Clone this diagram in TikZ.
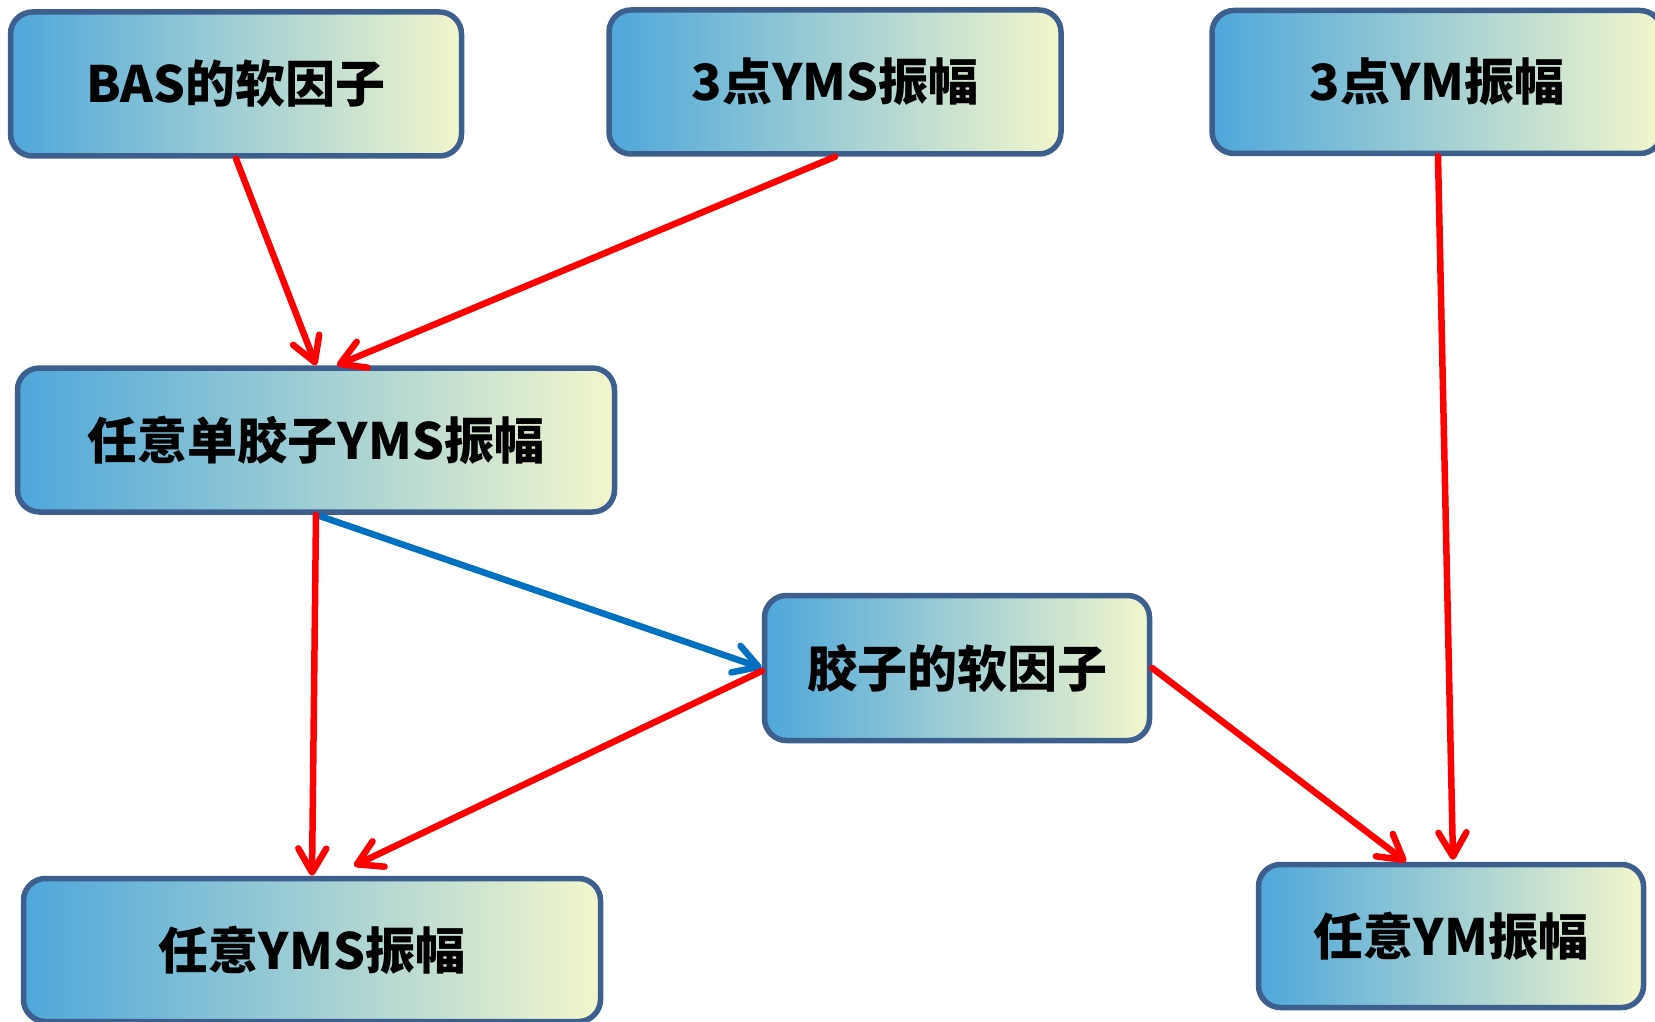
\documentclass[tikz,border=0pt]{standalone}
\usepackage{fontspec}
\newfontfamily\cjk{Noto Sans CJK SC}
\usetikzlibrary{arrows.meta,calc}
\definecolor{boxL}{RGB}{78,167,219}
\definecolor{boxM}{RGB}{150,201,212}
\definecolor{boxR}{RGB}{243,246,204}
\definecolor{boxD}{RGB}{60,95,142}
\definecolor{arrR}{RGB}{255,0,0}
\definecolor{arrB}{RGB}{0,112,192}
\tikzset{
  gbox/.style={draw=boxD, line width=5.5pt, rounded corners=22pt,
    left color=boxL, middle color=boxM, right color=boxR,
    inner sep=0pt, align=center,
    font=\cjk\bfseries\fontsize{50}{58}\selectfont},
  conn/.style={line width=6.5pt, line cap=round,
    -{Straight Barb[length=24pt,width=28pt,line cap=round,line join=round]}},
  redc/.style={conn, draw=arrR},
  bluec/.style={conn, draw=arrB}
}
\begin{document}
\begin{tikzpicture}[x=1pt,y=-1pt]
\useasboundingbox (0,0) rectangle (1655,1022);
\node[gbox, minimum width=451pt, minimum height=144pt] (b1) at (236,84) {BAS的软因子};
\node[gbox, minimum width=452pt, minimum height=144pt] (b2) at (835,82) {3点YMS振幅};
\node[gbox, minimum width=450pt, minimum height=143pt] (b3) at (1437,82) {3点YM振幅};
\node[gbox, minimum width=597pt, minimum height=144pt] (b4) at (316,440) {任意单胶子YMS振幅};
\node[gbox, minimum width=385pt, minimum height=145pt] (b5) at (957,668) {胶子的软因子};
\node[gbox, minimum width=577pt, minimum height=143pt] (b6) at (312,950) {任意YMS振幅};
\node[gbox, minimum width=385pt, minimum height=143pt] (b7) at (1451,936) {任意YM振幅};
\draw[redc] (b1.south) -- (b4.north);
\draw[redc] (b2.south) -- ($(b4.north)+(21,0)$);
\draw[bluec] (b4.south) -- (b5.west);
\draw[redc] (b4.south) -- (b6.north);
\draw[redc] ($(b5.west)+(0,3)$) -- ($(b6.north)+(42,-10)$);
\draw[redc] (b5.east) -- ($(b7.north)+(-45,0)$);
\draw[redc] ($(b3.south)+(1,0)$) -- ($(b7.north)+(2,-2)$);
\end{tikzpicture}
\end{document}
